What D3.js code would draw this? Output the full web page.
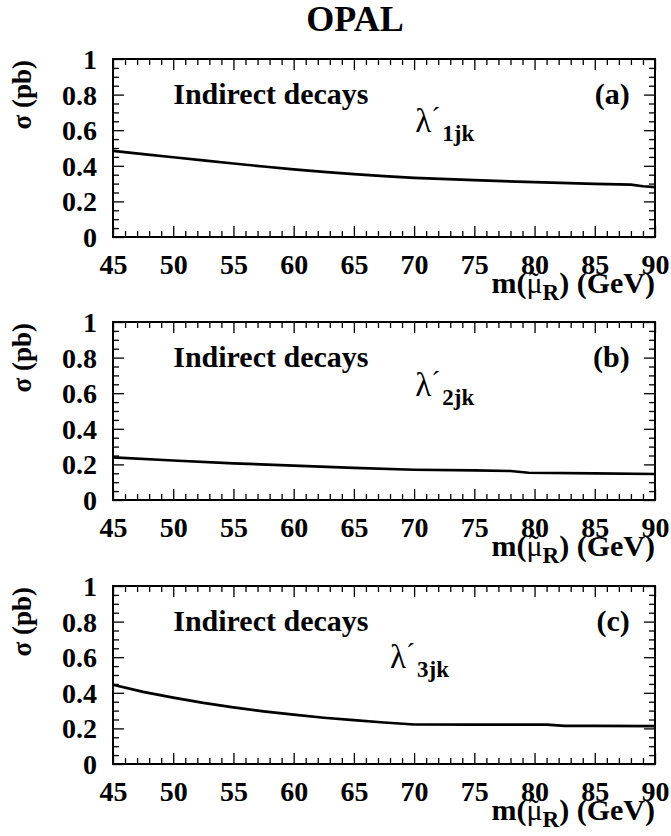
<!DOCTYPE html>
<html>
<head>
<meta charset="utf-8">
<script src="https://cdn.jsdelivr.net/npm/d3@7"></script>
<style>
  html, body { margin: 0; padding: 0; background: #fff; }
  svg { display: block; }
  text { font-family: "Liberation Serif", "Times New Roman", serif; fill: #000; }
</style>
</head>
<body>
<script>
// Cross-section sigma (pb) versus right-handed smuon mass, indirect decays
const massA = [45, 47.5, 50, 52.5, 55, 57.5, 60, 62.5, 65, 67.5, 70, 75, 80, 85, 88, 89, 90];
const sigmaA = [0.484, 0.466, 0.448, 0.430, 0.413, 0.396, 0.380, 0.366, 0.353, 0.342, 0.332, 0.319, 0.308, 0.298, 0.294, 0.285, 0.280];

const massB = [45, 50, 55, 60, 65, 70, 75, 78, 79.5, 85, 90];
const sigmaB = [0.240, 0.222, 0.206, 0.193, 0.180, 0.170, 0.166, 0.163, 0.153, 0.150, 0.146];

const massC = [45, 47.5, 50, 52.5, 55, 57.5, 60, 62.5, 65, 67.5, 70, 75, 80, 81, 82.5, 85, 90];
const sigmaC = [0.445, 0.405, 0.373, 0.343, 0.318, 0.296, 0.277, 0.260, 0.246, 0.233, 0.222, 0.221, 0.221, 0.221, 0.214, 0.214, 0.213];

const panelTags = ["(a)", "(b)", "(c)"];
const couplingIndex = ["1jk", "2jk", "3jk"];
const panelText = "Indirect decays";

const xMajorTicks = [45, 50, 55, 60, 65, 70, 75, 80, 85, 90];
const yMajorTicks = [0, 0.2, 0.4, 0.6, 0.8, 1];
const yTickLabels = ["0", "0.2", "0.4", "0.6", "0.8", "1"];

const W = 671, H = 836;
const left = 113, right = 655, panelH = 178;
const tops = [59, 322, 586];
// coupling symbol anchors in data units: [mass, sigma]
const lambdaPos = [[70.1, 0.59], [70.1, 0.585], [68.0, 0.54]];

const serif = '"Liberation Serif", "Times New Roman", serif';

const svg = d3.select("body").append("svg").attr("width", W).attr("height", H);

svg.append("text")
  .attr("x", 355).attr("y", 31)
  .attr("text-anchor", "middle")
  .attr("font-size", 36).attr("font-weight", "bold")
  .text("OPAL");

const series = [
  { mass: massA, sigma: sigmaA },
  { mass: massB, sigma: sigmaB },
  { mass: massC, sigma: sigmaC }
];

series.forEach((s, i) => {
  const top = tops[i], bottom = top + panelH;
  const x = d3.scaleLinear().domain([45, 90]).range([left, right]);
  const y = d3.scaleLinear().domain([0, 1]).range([bottom, top]);
  const g = svg.append("g");

  const xMinor = d3.range(45, 90.5, 1).filter(v => v % 5 !== 0);
  const yMinor = d3.range(0, 1.001, 0.05).map(v => +v.toFixed(2))
    .filter(v => Math.abs(v / 0.2 - Math.round(v / 0.2)) > 1e-6);

  // bottom axis with labels
  const bAx = g.append("g").attr("transform", `translate(0,${bottom})`)
    .call(d3.axisBottom(x).tickValues(xMajorTicks).tickSize(-11).tickFormat(d3.format("d")));
  bAx.attr("font-family", serif);
  bAx.selectAll("text").attr("dy", null).attr("y", 37)
    .attr("font-size", 28).attr("font-weight", "bold")
    .style("font-family", serif);
  g.append("g").attr("transform", `translate(0,${bottom})`)
    .call(d3.axisBottom(x).tickValues(xMinor).tickSize(-6).tickFormat(""));

  // top axis ticks
  g.append("g").attr("transform", `translate(0,${top})`)
    .call(d3.axisTop(x).tickValues(xMajorTicks).tickSize(-11).tickFormat(""));
  g.append("g").attr("transform", `translate(0,${top})`)
    .call(d3.axisTop(x).tickValues(xMinor).tickSize(-6).tickFormat(""));

  // left axis with labels
  const lAx = g.append("g").attr("transform", `translate(${left},0)`)
    .call(d3.axisLeft(y).tickValues(yMajorTicks).tickSize(-11).tickPadding(16)
      .tickFormat((d, k) => yTickLabels[k]));
  lAx.attr("font-family", serif);
  lAx.selectAll("text").attr("dy", "0.34em")
    .attr("font-size", 28).attr("font-weight", "bold")
    .style("font-family", serif);
  g.append("g").attr("transform", `translate(${left},0)`)
    .call(d3.axisLeft(y).tickValues(yMinor).tickSize(-6).tickFormat(""));

  // right axis ticks
  g.append("g").attr("transform", `translate(${right},0)`)
    .call(d3.axisRight(y).tickValues(yMajorTicks).tickSize(-11).tickFormat(""));
  g.append("g").attr("transform", `translate(${right},0)`)
    .call(d3.axisRight(y).tickValues(yMinor).tickSize(-6).tickFormat(""));

  g.selectAll(".domain").remove();
  g.selectAll(".tick line").attr("stroke", "#000").attr("stroke-width", 1.3);

  // frame
  g.append("rect")
    .attr("x", left).attr("y", top)
    .attr("width", right - left).attr("height", panelH)
    .attr("fill", "none").attr("stroke", "#000").attr("stroke-width", 2);

  // cross-section curve
  const line = d3.line().x((d, k) => x(s.mass[k])).y(d => y(d));
  g.append("path")
    .datum(s.sigma)
    .attr("d", line)
    .attr("fill", "none").attr("stroke", "#000")
    .attr("stroke-width", 2.7).attr("stroke-linejoin", "round");

  // labels inside the frame
  g.append("text")
    .attr("x", x(50)).attr("y", y(0.745))
    .attr("font-size", 30).attr("font-weight", "bold")
    .text(panelText);
  g.append("text")
    .attr("x", x(87.9)).attr("y", y(0.745))
    .attr("text-anchor", "end")
    .attr("font-size", 30).attr("font-weight", "bold")
    .text(panelTags[i]);

  const lam = g.append("text")
    .attr("x", x(lambdaPos[i][0])).attr("y", y(lambdaPos[i][1]))
    .attr("font-size", 33);
  lam.append("tspan").text("λ");
  lam.append("tspan").attr("dy", -6).attr("font-size", 27).text("´");
  lam.append("tspan").attr("dy", 15).attr("dx", 2)
    .attr("font-size", 23).attr("font-weight", "bold").text(couplingIndex[i]);

  // y title
  g.append("text")
    .attr("transform", `translate(31,${top + 1}) rotate(-90)`)
    .attr("text-anchor", "end")
    .attr("font-size", 27).attr("font-weight", "bold")
    .text("σ (pb)");

  // x title: m(smuon_R) (GeV), tilde set back over the mu
  const xt = g.append("text")
    .attr("x", right).attr("y", bottom + 56)
    .attr("text-anchor", "end")
    .attr("font-size", 30).attr("font-weight", "bold");
  xt.append("tspan").text("m(");
  xt.append("tspan").attr("font-weight", "normal").text("μ");
  xt.append("tspan").attr("font-weight", "normal").attr("dx", -13.5).attr("dy", -1).text("˜");
  xt.append("tspan").attr("font-size", 23).attr("dx", 3.5).attr("dy", 8).text("R");
  xt.append("tspan").attr("dy", -7).text(") (GeV)");
});
</script>
</body>
</html>
